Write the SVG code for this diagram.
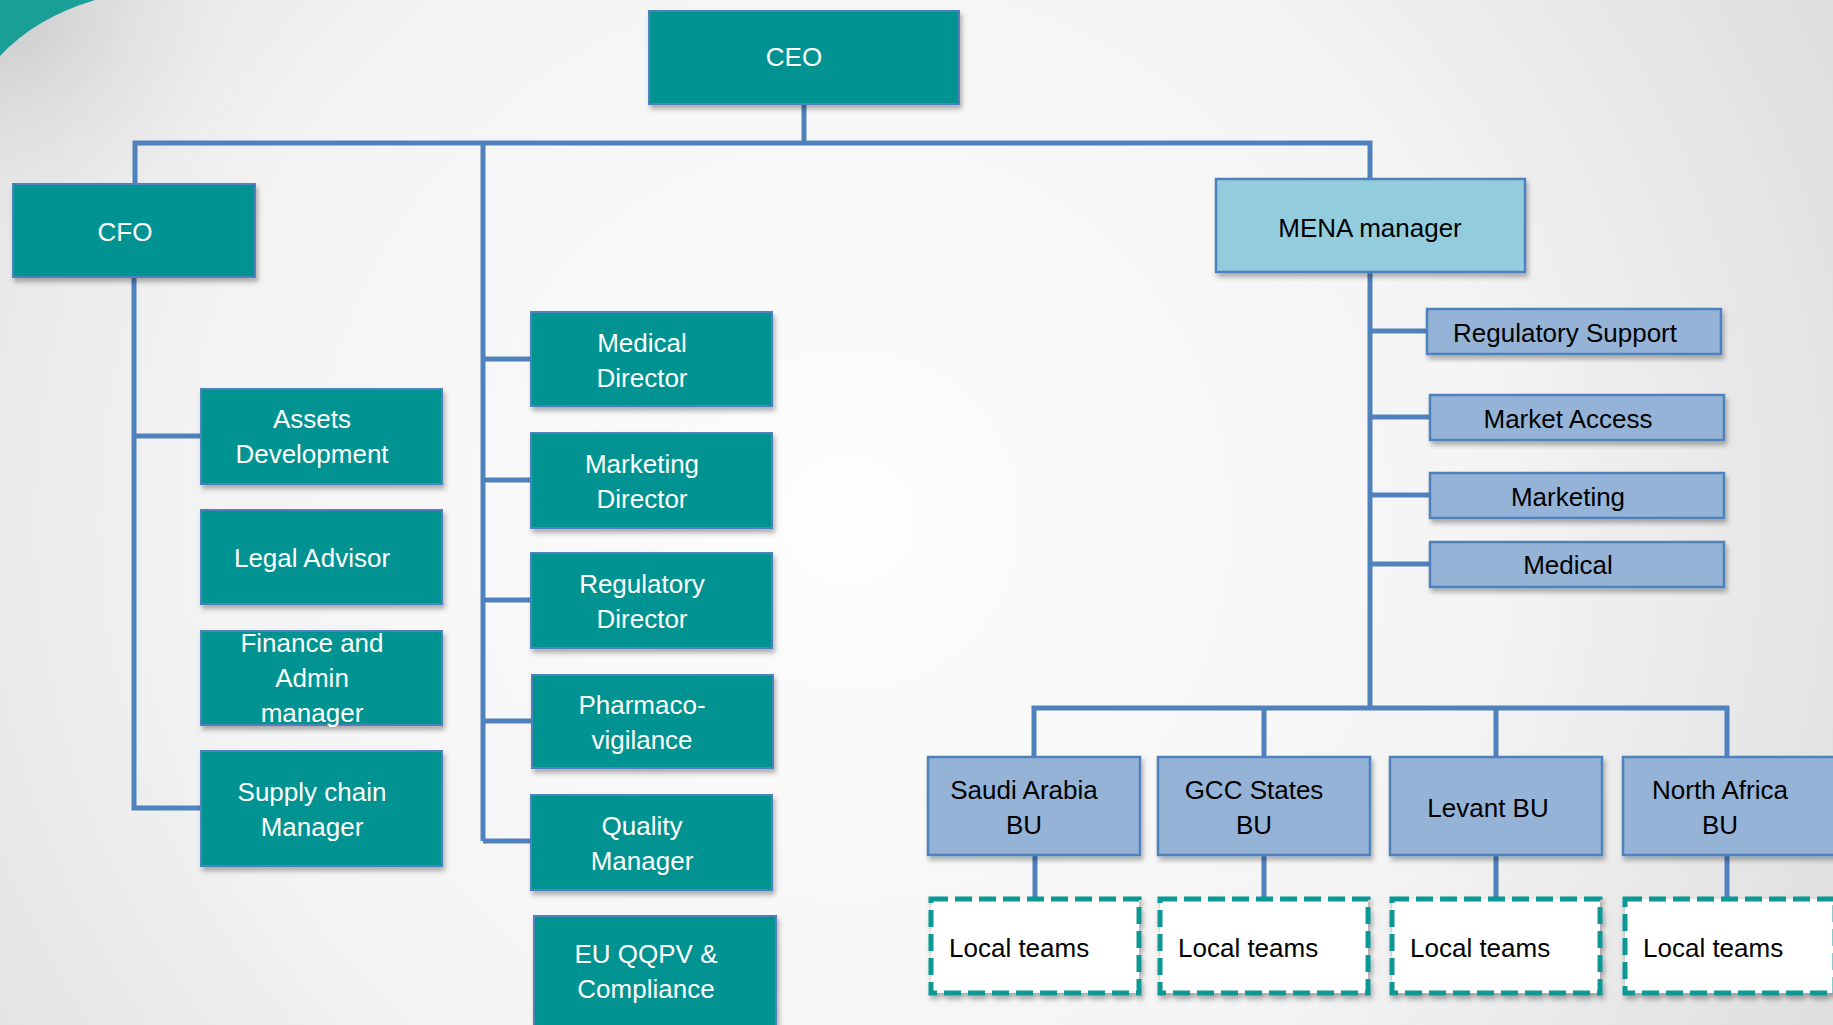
<svg xmlns="http://www.w3.org/2000/svg" width="1833" height="1025" viewBox="0 0 1833 1025">
<defs>
  <radialGradient id="bg" cx="850" cy="520" r="1150" gradientUnits="userSpaceOnUse">
    <stop offset="0" stop-color="#fdfdfd"/>
    <stop offset="0.55" stop-color="#f4f4f4"/>
    <stop offset="1" stop-color="#dcdcdc"/>
  </radialGradient>
  <radialGradient id="corner" cx="0" cy="0" r="260" gradientUnits="userSpaceOnUse">
    <stop offset="0" stop-color="#c8c8c8"/>
    <stop offset="1" stop-color="#e8e8e8" stop-opacity="0"/>
  </radialGradient>
  <filter id="sh" x="-10%" y="-10%" width="125%" height="130%">
    <feDropShadow dx="2" dy="4" stdDeviation="2.5" flood-color="#000" flood-opacity="0.3"/>
  </filter>
</defs>
<style>
  .teal{fill:#059391;stroke:#4f81bd;stroke-width:2;filter:url(#sh)}
  .lb{fill:#95b3d7;stroke:#4f81bd;stroke-width:2.5;filter:url(#sh)}
  .mena{fill:#93cddd;stroke:#4f81bd;stroke-width:2.5;filter:url(#sh)}
  .lt{fill:#ffffff;stroke:#0a9896;stroke-width:5;stroke-dasharray:17 7;filter:url(#sh)}
  .conn{fill:none;stroke:#4f81bd;stroke-width:5}
  text{font-family:"Liberation Sans",Arial,sans-serif;font-size:26px}
  .w{fill:#ffffff;text-anchor:middle}
  .k{fill:#000000;text-anchor:middle}
  .ks{fill:#000000;text-anchor:start}
</style>
<rect x="0" y="0" width="1833" height="1025" fill="url(#bg)"/>
<rect x="0" y="0" width="300" height="300" fill="url(#corner)"/>
<path d="M0,0 L95,0 Q35,18 0,56 Z" fill="#1a9e98"/>

<g id="connectors">
  <path class="conn" d="M804,104 V143"/>
  <path class="conn" d="M135,184 V143 H1370 V179"/>
  <path class="conn" d="M483,143 V841"/>
  <path class="conn" d="M483,359 H531 M483,480 H531 M483,600 H531 M483,721 H532 M483,841 H531"/>
  <path class="conn" d="M134,277 V808 H201 M134,436 H201"/>
  <path class="conn" d="M1370,272 V708"/>
  <path class="conn" d="M1370,331 H1427 M1370,417 H1430 M1370,495 H1430 M1370,564 H1430"/>
  <path class="conn" d="M1034,757 V708 H1727 V757 M1264,708 V757 M1496,708 V757"/>
  <path class="conn" d="M1035,855 V897 M1264,855 V897 M1496,855 V897 M1727,855 V897"/>
</g>

<g id="ceo"><rect class="teal" x="649" y="11" width="310" height="93"/><text class="w" x="794" y="66">CEO</text></g>
<g id="cfo"><rect class="teal" x="13" y="184" width="242" height="93"/><text class="w" x="125" y="241">CFO</text></g>

<g id="assets"><rect class="teal" x="201" y="389" width="241" height="95"/><text class="w" x="312" y="428">Assets</text><text class="w" x="312" y="463">Development</text></g>
<g id="legal"><rect class="teal" x="201" y="510" width="241" height="94"/><text class="w" x="312" y="567">Legal Advisor</text></g>
<g id="finance"><rect class="teal" x="201" y="631" width="241" height="94"/><text class="w" x="312" y="652">Finance and</text><text class="w" x="312" y="687">Admin</text><text class="w" x="312" y="722">manager</text></g>
<g id="supply"><rect class="teal" x="201" y="751" width="241" height="115"/><text class="w" x="312" y="801">Supply chain</text><text class="w" x="312" y="836">Manager</text></g>

<g id="medical-director"><rect class="teal" x="531" y="312" width="241" height="94"/><text class="w" x="642" y="352">Medical</text><text class="w" x="642" y="387">Director</text></g>
<g id="marketing-director"><rect class="teal" x="531" y="433" width="241" height="95"/><text class="w" x="642" y="473">Marketing</text><text class="w" x="642" y="508">Director</text></g>
<g id="regulatory-director"><rect class="teal" x="531" y="553" width="241" height="95"/><text class="w" x="642" y="593">Regulatory</text><text class="w" x="642" y="628">Director</text></g>
<g id="pharmacovigilance"><rect class="teal" x="532" y="675" width="241" height="93"/><text class="w" x="642" y="714">Pharmaco-</text><text class="w" x="642" y="749">vigilance</text></g>
<g id="quality"><rect class="teal" x="531" y="795" width="241" height="95"/><text class="w" x="642" y="835">Quality</text><text class="w" x="642" y="870">Manager</text></g>
<g id="euqqpv"><rect class="teal" x="534" y="916" width="242" height="120"/><text class="w" x="646" y="963">EU QQPV &amp;</text><text class="w" x="646" y="998">Compliance</text></g>

<g id="mena"><rect class="mena" x="1216" y="179" width="309" height="93"/><text class="k" x="1370" y="237">MENA manager</text></g>
<g id="regulatory-support"><rect class="lb" x="1427" y="309" width="294" height="45"/><text class="k" x="1565" y="342">Regulatory Support</text></g>
<g id="market-access"><rect class="lb" x="1430" y="395" width="294" height="45"/><text class="k" x="1568" y="428">Market Access</text></g>
<g id="marketing"><rect class="lb" x="1430" y="473" width="294" height="45"/><text class="k" x="1568" y="506">Marketing</text></g>
<g id="medical"><rect class="lb" x="1430" y="542" width="294" height="45"/><text class="k" x="1568" y="574">Medical</text></g>

<g id="saudi"><rect class="lb" x="928" y="757" width="212" height="98"/><text class="k" x="1024" y="799">Saudi Arabia</text><text class="k" x="1024" y="834">BU</text></g>
<g id="gcc"><rect class="lb" x="1158" y="757" width="212" height="98"/><text class="k" x="1254" y="799">GCC States</text><text class="k" x="1254" y="834">BU</text></g>
<g id="levant"><rect class="lb" x="1390" y="757" width="212" height="98"/><text class="k" x="1488" y="817">Levant BU</text></g>
<g id="north-africa"><rect class="lb" x="1623" y="757" width="212" height="98"/><text class="k" x="1720" y="799">North Africa</text><text class="k" x="1720" y="834">BU</text></g>

<g id="local-saudi"><rect class="lt" x="931" y="899" width="208" height="94"/><text class="ks" x="949" y="957">Local teams</text></g>
<g id="local-gcc"><rect class="lt" x="1160" y="899" width="208" height="94"/><text class="ks" x="1178" y="957">Local teams</text></g>
<g id="local-levant"><rect class="lt" x="1392" y="899" width="208" height="94"/><text class="ks" x="1410" y="957">Local teams</text></g>
<g id="local-north-africa"><rect class="lt" x="1625" y="899" width="210" height="94"/><text class="ks" x="1643" y="957">Local teams</text></g>
</svg>
